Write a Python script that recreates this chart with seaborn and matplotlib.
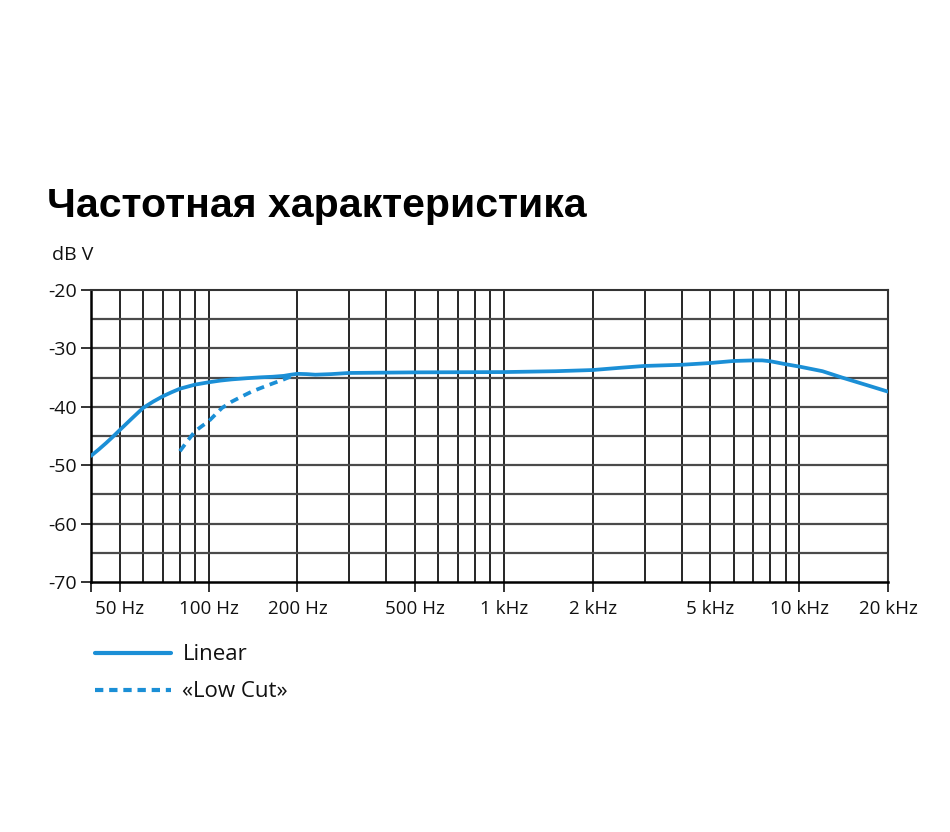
import numpy as np
import pandas as pd
import matplotlib
matplotlib.use("Agg")
import matplotlib.pyplot as plt
import seaborn as sns
from matplotlib.ticker import FixedLocator, NullLocator, NullFormatter

# values
linear_hz = [40, 42.5, 45, 47.5, 50, 55, 60, 65, 70, 75, 80, 90, 100, 110, 120, 135, 150,
             165, 180, 190, 200, 215, 230, 260, 300, 500, 1000, 1500, 2000, 2500, 3000,
             4000, 5000, 6000, 7000, 7500, 8000, 9000, 10000, 12000, 14000, 17000, 20000]
linear_db = [-48.4, -47.3, -46.2, -45.1, -44.0, -42.0, -40.2, -39.1, -38.2, -37.5, -36.9,
             -36.2, -35.8, -35.5, -35.3, -35.1, -34.95, -34.85, -34.7, -34.5, -34.35, -34.4,
             -34.5, -34.4, -34.2, -34.1, -34.05, -33.9, -33.7, -33.3, -33.0, -32.8, -32.5,
             -32.15, -32.05, -32.05, -32.2, -32.7, -33.1, -33.9, -35.0, -36.3, -37.4]

lowcut_hz = [80, 85, 90, 95, 100, 111, 120, 130, 140, 150, 165, 180, 190]
lowcut_db = [-47.6, -45.8, -44.2, -43.3, -42.5, -40.2, -39.1, -38.2, -37.4, -36.8, -36.0,
             -35.3, -34.8]

xtick_vals = [50, 100, 200, 500, 1000, 2000, 5000, 10000, 20000]
xtick_labels = ["50 Hz", "100 Hz", "200 Hz", "500 Hz", "1 kHz", "2 kHz", "5 kHz", "10 kHz", "20 kHz"]
grid_hz = [50, 60, 70, 80, 90, 100, 200, 300, 400, 500, 600, 700, 800, 900, 1000,
           2000, 3000, 4000, 5000, 6000, 7000, 8000, 9000, 10000]
ytick_vals = [-70, -60, -50, -40, -30, -20]
grid_db = [-65, -60, -55, -50, -45, -40, -35, -30, -25]

blue = "#1b8fd6"

sns.set_style("white")
plt.rcParams["font.family"] = ["Open Sans", "DejaVu Sans"]

df_lin = pd.DataFrame({"hz": linear_hz, "db": linear_db})
df_low = pd.DataFrame({"hz": lowcut_hz, "db": lowcut_db})

fig = plt.figure(figsize=(9.5, 8.32), dpi=100)
ax = fig.add_axes([0.0958, 0.3005, 0.8389, 0.3509])

for f in grid_hz:
    ax.axvline(f, color="black", lw=1.2, zorder=1)
for d in grid_db:
    ax.axhline(d, color="#4a4a4a", lw=1.6, zorder=1)

sns.lineplot(data=df_lin, x="hz", y="db", ax=ax, color=blue, lw=2.7, zorder=3)
sns.lineplot(data=df_low, x="hz", y="db", ax=ax, color=blue, lw=2.7, zorder=3,
             linestyle=(0, (2.2, 1.6)))

ax.set_xscale("log")
ax.set_xlim(40, 20000)
ax.set_ylim(-70, -20)
ax.xaxis.set_major_locator(FixedLocator([40] + xtick_vals))
ax.set_xticklabels([""] + xtick_labels)
ax.xaxis.set_minor_locator(NullLocator())
ax.xaxis.set_minor_formatter(NullFormatter())
ax.yaxis.set_major_locator(FixedLocator(ytick_vals))
ax.set_yticklabels([str(v) for v in ytick_vals])
ax.set_xlabel("")
ax.set_ylabel("")

for s in ["top", "right"]:
    ax.spines[s].set_color("#333333")
    ax.spines[s].set_linewidth(1.5)
for s in ["left", "bottom"]:
    ax.spines[s].set_color("black")
    ax.spines[s].set_linewidth(1.8)

ax.tick_params(axis="both", which="major", direction="out", length=7, width=1.4,
               color="#333333", labelcolor="#111111", bottom=True, left=True)
ax.tick_params(axis="x", labelsize=13.5, pad=6)
ax.tick_params(axis="y", labelsize=14, pad=3)

fig.text(0.049, 0.753, "Частотная характеристика", fontsize=29.5, fontweight="bold",
         family=["Liberation Sans", "DejaVu Sans"], va="center", ha="left", color="black")
fig.text(0.055, 0.693, "dB V", fontsize=14, va="center", ha="left", color="#111111")

# legend drawn as lines below the chart
leg_lin = plt.Line2D([0.100, 0.180], [0.215, 0.215], transform=fig.transFigure,
                     color=blue, lw=3)
leg_low = plt.Line2D([0.100, 0.180], [0.171, 0.171], transform=fig.transFigure,
                     color=blue, lw=3, linestyle=(0, (2.0, 1.4)))
fig.lines.extend([leg_lin, leg_low])
fig.text(0.192, 0.213, "Linear", fontsize=16, va="center", ha="left", color="#111111")
fig.text(0.192, 0.169, "«Low Cut»", fontsize=16, va="center", ha="left", color="#111111")

fig.savefig("out.png", dpi=100, facecolor="white")
